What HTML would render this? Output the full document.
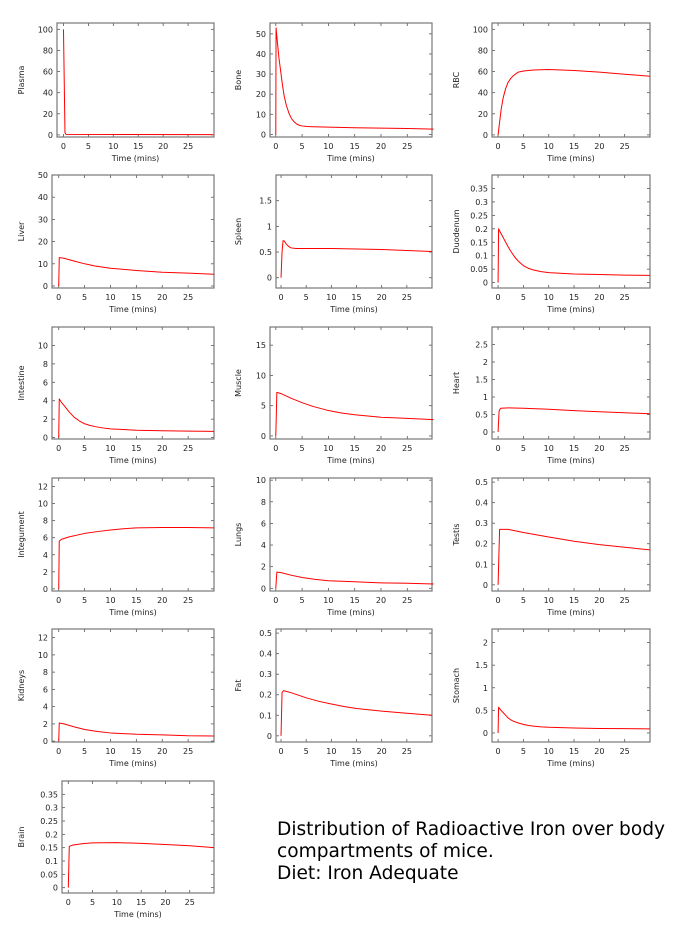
<!DOCTYPE html>
<html><head><meta charset="utf-8">
<style>
html,body{margin:0;padding:0;background:#fff;}
svg{display:block;font-family:"DejaVu Sans","Liberation Sans",sans-serif;}
</style></head>
<body>
<svg id="chart" width="690" height="940" viewBox="0 0 690 940" xmlns="http://www.w3.org/2000/svg">
<text x="277" y="835" font-size="18.6" fill="#000">Distribution of Radioactive Iron over body</text>
<text x="277" y="857" font-size="18.6" fill="#000">compartments of mice.</text>
<text x="277" y="879" font-size="18.6" fill="#000">Diet: Iron Adequate</text>
</svg>
<script>
// ---- data ----
const xTicks = [0, 5, 10, 15, 20, 25];
const plasmaT = [0, 0.3, 0.5, 30];
const plasmaV = [100, 2, 0.5, 0.3];
const boneT = [0, 0.05, 0.3, 0.6, 1, 1.3, 1.6, 2, 2.5, 3, 3.5, 4, 4.5, 5, 6, 7, 10, 15, 20, 25, 30];
const boneV = [0, 53, 46, 38, 30, 24, 19, 14.5, 10.5, 7.8, 6.2, 5.1, 4.5, 4.2, 3.9, 3.8, 3.6, 3.3, 3.1, 2.9, 2.6];
const rbcT = [0, 0.3, 0.6, 1, 1.5, 2, 2.5, 3, 4, 5, 7, 10, 15, 20, 25, 30];
const rbcV = [0, 12, 24, 35, 44, 50, 53.5, 56, 59.5, 60.5, 61.5, 62, 61, 59.5, 57.5, 55.5];
const liverT = [0, 0.1, 1, 3, 5, 7, 10, 15, 20, 25, 30];
const liverV = [0, 12.8, 12.5, 11.2, 10, 9, 8, 7, 6.2, 5.8, 5.3];
const spleenT = [0, 0.2, 0.4, 0.6, 1, 1.5, 2, 3, 10, 15, 20, 25, 30];
const spleenV = [0, 0.5, 0.72, 0.72, 0.66, 0.61, 0.58, 0.57, 0.57, 0.56, 0.55, 0.53, 0.51];
const duodenumT = [0, 0.1, 0.5, 1, 1.5, 2, 2.5, 3, 3.5, 4, 5, 6, 7, 8.5, 10, 15, 20, 25, 30];
const duodenumV = [0, 0.2, 0.185, 0.168, 0.15, 0.133, 0.117, 0.103, 0.09, 0.08, 0.063, 0.053, 0.047, 0.041, 0.037, 0.032, 0.03, 0.028, 0.027];
const intestineT = [0, 0.1, 0.5, 1, 1.5, 2, 2.5, 3, 4, 5, 6, 7, 8.5, 10, 15, 20, 25, 30];
const intestineV = [0, 4.2, 3.85, 3.5, 3.15, 2.8, 2.5, 2.2, 1.8, 1.5, 1.33, 1.2, 1.05, 0.95, 0.8, 0.75, 0.7, 0.68];
const muscleT = [0, 0.2, 1, 3, 5, 7, 10, 12.5, 15, 20, 25, 30];
const muscleV = [0, 7.2, 7, 6.2, 5.5, 4.9, 4.2, 3.8, 3.5, 3.1, 2.9, 2.7];
const heartT = [0, 0.2, 0.5, 2, 5, 10, 15, 20, 25, 30];
const heartV = [0, 0.6, 0.68, 0.69, 0.68, 0.65, 0.61, 0.58, 0.55, 0.52];
const integumentT = [0, 0.1, 0.5, 2, 5, 7.5, 10, 12.5, 15, 20, 25, 30];
const integumentV = [0, 5.6, 5.8, 6.1, 6.5, 6.72, 6.9, 7.05, 7.15, 7.2, 7.2, 7.15];
const lungsT = [0, 0.2, 1, 3, 5, 7.5, 10, 15, 20, 25, 30];
const lungsV = [0, 1.5, 1.45, 1.2, 1.0, 0.83, 0.7, 0.6, 0.5, 0.47, 0.4];
const testisT = [0, 0.3, 2, 5, 10, 15, 20, 25, 30];
const testisV = [0, 0.27, 0.27, 0.255, 0.233, 0.212, 0.196, 0.183, 0.17];
const kidneysT = [0, 0.1, 1, 3, 5, 7.5, 10, 15, 20, 25, 30];
const kidneysV = [0, 2.1, 2.0, 1.65, 1.35, 1.12, 0.95, 0.8, 0.72, 0.62, 0.6];
const fatT = [0, 0.2, 0.5, 2, 5, 7.5, 10, 12.5, 15, 20, 25, 30];
const fatV = [0, 0.21, 0.22, 0.21, 0.185, 0.168, 0.155, 0.143, 0.133, 0.12, 0.11, 0.1];
const stomachT = [0, 0.1, 0.5, 1, 1.5, 2, 2.5, 3, 4, 5, 6, 7, 8.5, 10, 15, 20, 25, 30];
const stomachV = [0, 0.57, 0.51, 0.45, 0.39, 0.33, 0.29, 0.26, 0.22, 0.19, 0.165, 0.15, 0.135, 0.125, 0.11, 0.1, 0.095, 0.09];
const brainT = [0, 0.2, 1, 3, 5, 10, 15, 20, 25, 30];
const brainV = [0, 0.155, 0.16, 0.165, 0.168, 0.169, 0.166, 0.162, 0.157, 0.15];

const ticks100 = [0, 20, 40, 60, 80, 100];
const ticks50 = [0, 10, 20, 30, 40, 50];
const ticksSpleen = [0, 0.5, 1, 1.5];
const ticks035 = [0, 0.05, 0.1, 0.15, 0.2, 0.25, 0.3, 0.35];
const ticks10 = [0, 2, 4, 6, 8, 10];
const ticks15 = [0, 5, 10, 15];
const ticks25 = [0, 0.5, 1, 1.5, 2, 2.5];
const ticks12 = [0, 2, 4, 6, 8, 10, 12];
const ticks05 = [0, 0.1, 0.2, 0.3, 0.4, 0.5];
const ticks2 = [0, 0.5, 1, 1.5, 2];

// ---- layout (panel boxes & axis ranges) ----
const panels = [
 {name:'plasma', label:'Plasma', T:plasmaT, V:plasmaV, yt:ticks100, l:57, r:214, t:23, b:137, x0:-1.3, x1:30.2, y0:-2, y1:106, lx:24},
 {name:'bone', label:'Bone', T:boneT, V:boneV, yt:ticks50, l:270, r:432, t:23, b:137, x0:-1.1, x1:29.7, y0:-1.3, y1:55.4, lx:241},
 {name:'rbc', label:'RBC', T:rbcT, V:rbcV, yt:ticks100, l:492, r:650, t:23, b:137, x0:-1.2, x1:30, y0:-2, y1:106, lx:459},
 {name:'liver', label:'Liver', T:liverT, V:liverV, yt:ticks50, l:52, r:214, t:175, b:288, x0:-1.3, x1:30, y0:-0.9, y1:50, lx:24},
 {name:'spleen', label:'Spleen', T:spleenT, V:spleenV, yt:ticksSpleen, l:276, r:432, t:175, b:288, x0:-1, x1:30, y0:-0.2, y1:2.0, lx:241},
 {name:'duodenum', label:'Duodenum', T:duodenumT, V:duodenumV, yt:ticks035, l:492, r:650, t:175, b:288, x0:-1.2, x1:30, y0:-0.02, y1:0.4, lx:459},
 {name:'intestine', label:'Intestine', T:intestineT, V:intestineV, yt:ticks10, l:52, r:214, t:327, b:439, x0:-1.3, x1:30, y0:-0.15, y1:12, lx:24},
 {name:'muscle', label:'Muscle', T:muscleT, V:muscleV, yt:ticks15, l:270, r:432, t:327, b:439, x0:-1.1, x1:29.7, y0:-0.5, y1:18, lx:241},
 {name:'heart', label:'Heart', T:heartT, V:heartV, yt:ticks25, l:492, r:650, t:327, b:439, x0:-1.2, x1:30, y0:-0.2, y1:3.0, lx:459},
 {name:'integument', label:'Integument', T:integumentT, V:integumentV, yt:ticks12, l:52, r:214, t:478, b:591, x0:-1.3, x1:30, y0:-0.25, y1:13, lx:24},
 {name:'lungs', label:'Lungs', T:lungsT, V:lungsV, yt:ticks10, l:270, r:432, t:478, b:591, x0:-1.1, x1:29.7, y0:-0.25, y1:10.2, lx:241},
 {name:'testis', label:'Testis', T:testisT, V:testisV, yt:ticks05, l:492, r:650, t:478, b:591, x0:-1.2, x1:30, y0:-0.03, y1:0.52, lx:459},
 {name:'kidneys', label:'Kidneys', T:kidneysT, V:kidneysV, yt:ticks12, l:52, r:214, t:629, b:742, x0:-1.3, x1:30, y0:-0.1, y1:13, lx:24},
 {name:'fat', label:'Fat', T:fatT, V:fatV, yt:ticks05, l:276, r:432, t:629, b:742, x0:-1, x1:30, y0:-0.03, y1:0.52, lx:241},
 {name:'stomach', label:'Stomach', T:stomachT, V:stomachV, yt:ticks2, l:492, r:650, t:629, b:742, x0:-1.2, x1:30, y0:-0.2, y1:2.3, lx:459},
 {name:'brain', label:'Brain', T:brainT, V:brainV, yt:ticks035, l:62, r:214, t:781, b:893, x0:-1.3, x1:30, y0:-0.02, y1:0.4, lx:24}
];

const svg = document.getElementById('chart');
const NS = 'http://www.w3.org/2000/svg';
function mk(tag, attrs, parent){
  const e = document.createElementNS(NS, tag);
  for (const k in attrs) e.setAttribute(k, attrs[k]);
  (parent||svg).appendChild(e);
  return e;
}
function fmt(v){ return String(+v.toFixed(3)); }

panels.forEach(p => {
  const g = mk('g', {});
  
  
  const xs = v => p.l + (v - p.x0) / (p.x1 - p.x0) * (p.r - p.l);
  const ys = v => p.b - (v - p.y0) / (p.y1 - p.y0) * (p.b - p.t);
  xTicks.forEach(v => {
    const x = xs(v);
    const t1 = mk('line', {x1:x, x2:x, y1:p.b, y2:p.b-3, stroke:'#555', 'stroke-width':0.8}, g);
    
    
    mk('line', {x1:x, x2:x, y1:p.t, y2:p.t+3, stroke:'#555', 'stroke-width':0.8}, g);
    const tl = mk('text', {x:x, y:p.b+12, 'font-size':8, 'text-anchor':'middle', fill:'#222'}, g);
    tl.textContent = fmt(v);
    
    
  });
  p.yt.forEach(v => {
    const y = ys(v);
    const t1 = mk('line', {x1:p.l, x2:p.l+3, y1:y, y2:y, stroke:'#555', 'stroke-width':0.8}, g);
    
    
    mk('line', {x1:p.r, x2:p.r-3, y1:y, y2:y, stroke:'#555', 'stroke-width':0.8}, g);
    const tl = mk('text', {x:p.l-4, y:y+3, 'font-size':8, 'text-anchor':'end', fill:'#222'}, g);
    tl.textContent = fmt(v);
    
    
  });
  const fr = mk('rect', {x:p.l, y:p.t, width:p.r-p.l, height:p.b-p.t, fill:'none', stroke:'#777', 'stroke-width':1.2}, g);
  
  
  const d = p.T.map((t,i) => (i ? 'L' : 'M') + xs(t).toFixed(2) + ' ' + ys(p.V[i]).toFixed(2)).join(' ');
  const ln = mk('path', {d:d, fill:'none', stroke:'#ff0000', 'stroke-width':1, 'stroke-linejoin':'round'}, g);
  
  
  const xl = mk('text', {x:(p.l+p.r)/2, y:p.b+24, 'font-size':8, 'text-anchor':'middle', fill:'#222'}, g);
  xl.textContent = 'Time (mins)';
  
  
  const cy = (p.t+p.b)/2;
  const yl = mk('text', {x:p.lx, y:cy, 'font-size':8, 'text-anchor':'middle', fill:'#222', transform:'rotate(-90 '+p.lx+' '+cy+')'}, g);
  yl.textContent = p.label;
  
  
});
</script>
</body></html>
